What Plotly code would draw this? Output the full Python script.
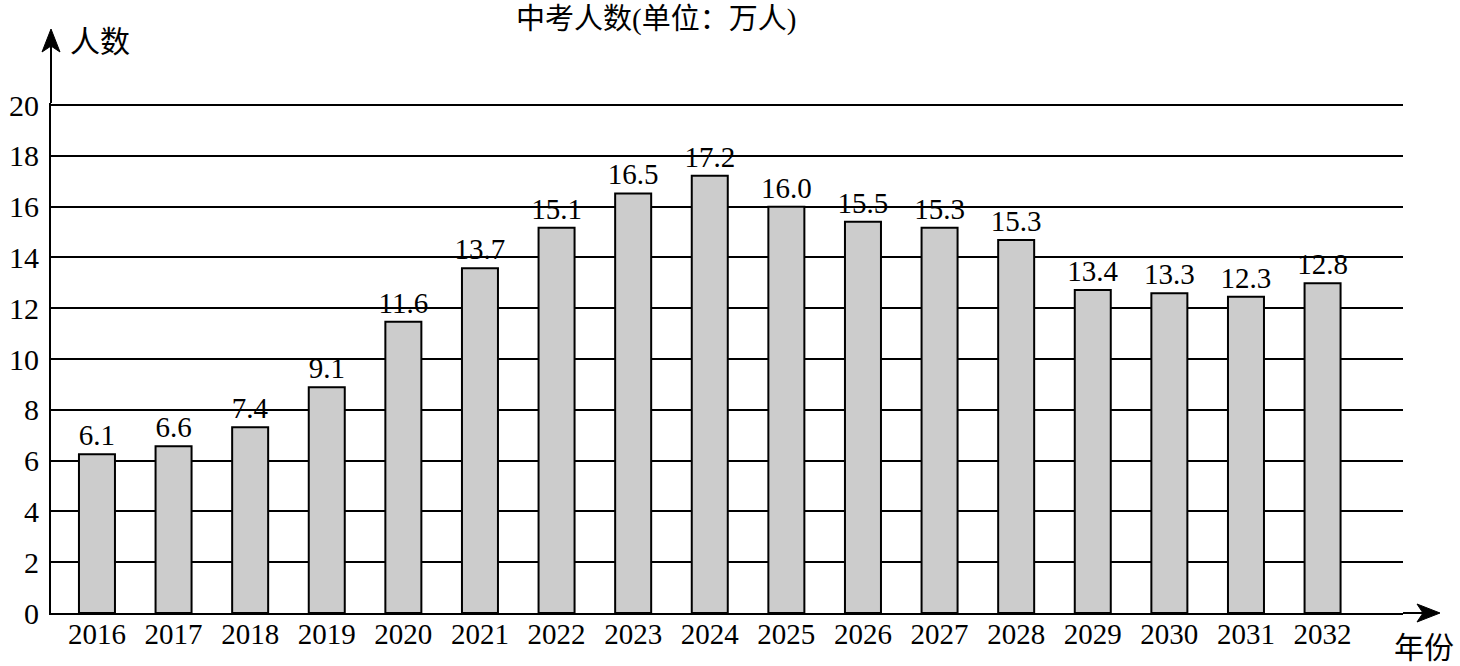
import plotly.graph_objects as go

years = ["2016", "2017", "2018", "2019", "2020", "2021", "2022", "2023", "2024",
         "2025", "2026", "2027", "2028", "2029", "2030", "2031", "2032"]
bar_heights = [6.25, 6.57, 7.31, 8.89, 11.47, 13.57, 15.17, 16.52, 17.22,
               16.0, 15.4, 15.17, 14.69, 12.72, 12.59, 12.45, 12.98]
bar_labels = ["6.1", "6.6", "7.4", "9.1", "11.6", "13.7", "15.1", "16.5", "17.2",
              "16.0", "15.5", "15.3", "15.3", "13.4", "13.3", "12.3", "12.8"]
y_ticks = [0, 2, 4, 6, 8, 10, 12, 14, 16, 18, 20]

title_text = "中考人数(单位：万人)"
y_title = "人数"
x_title = "年份"

FONT = "Liberation Serif, Times New Roman, Noto Sans CJK SC, serif"

fig = go.Figure()
fig.add_trace(go.Bar(
    x=list(range(len(years))), y=bar_heights,
    text=bar_labels, textposition="outside", cliponaxis=False,
    constraintext="none",
    textfont=dict(family=FONT, size=29, color="black"),
    marker=dict(color="#cccccc", line=dict(color="black", width=2)),
    width=0.47,
))

L, R, T, B = 51, 57, 103, 53
W, H = 1460, 666
pw, ph = W - L - R, H - T - B

def px_x(px):
    return (px - L) / pw

def px_y(py):
    return (H - B - py) / ph

fig.update_layout(
    width=W, height=H,
    margin=dict(l=L, r=R, t=T, b=B, autoexpand=False),
    plot_bgcolor="white", paper_bgcolor="white",
    showlegend=False,
    font=dict(family=FONT, size=29, color="black"),
    xaxis=dict(
        range=[-0.6, 17.05], tickmode="array",
        tickvals=list(range(len(years))), ticktext=years,
        showline=True, linecolor="black", linewidth=2,
        showgrid=False, zeroline=False, ticks="", automargin=False,
        tickfont=dict(family=FONT, size=29, color="black"),
        ticklabelstandoff=-6,
    ),
    yaxis=dict(
        range=[0, 20.08], tickmode="array", tickvals=y_ticks,
        showline=True, linecolor="black", linewidth=2,
        showgrid=True, gridcolor="black", gridwidth=2,
        zeroline=False, ticks="", automargin=False,
        tickfont=dict(family=FONT, size=30, color="black"),
        ticklabelstandoff=4,
    ),
)

# axis extensions with arrowheads
fig.add_shape(type="line", xref="paper", yref="paper",
              x0=0, x1=0, y0=1, y1=px_y(46), line=dict(color="black", width=2))
fig.add_shape(type="path", xref="paper", yref="paper",
              xsizemode="pixel", ysizemode="pixel",
              xanchor=0, yanchor=px_y(29),
              path="M0,0 L-9,-23 L0,-17 L9,-23 Z",
              fillcolor="black", line=dict(color="black", width=1))
fig.add_shape(type="line", xref="paper", yref="paper",
              x0=1, x1=px_x(1423), y0=0, y1=0, line=dict(color="black", width=2))
fig.add_shape(type="path", xref="paper", yref="paper",
              xsizemode="pixel", ysizemode="pixel",
              xanchor=px_x(1440), yanchor=0,
              path="M0,0 L-23,9 L-17,0 L-23,-9 Z",
              fillcolor="black", line=dict(color="black", width=1))

fig.add_annotation(text=title_text, xref="paper", yref="paper",
                   x=px_x(656), y=px_y(20), xanchor="center", yanchor="middle",
                   showarrow=False, font=dict(family=FONT, size=29, color="black"))
fig.add_annotation(text=y_title, xref="paper", yref="paper",
                   x=px_x(100), y=px_y(42), xanchor="center", yanchor="middle",
                   showarrow=False, font=dict(family=FONT, size=30, color="black"))
fig.add_annotation(text=x_title, xref="paper", yref="paper",
                   x=px_x(1424), y=px_y(647), xanchor="center", yanchor="middle",
                   showarrow=False, font=dict(family=FONT, size=30, color="black"))

fig.write_html("out.html", config={"displayModeBar": False},
               post_script="document.body.style.margin='0';document.body.style.overflow='hidden';")
